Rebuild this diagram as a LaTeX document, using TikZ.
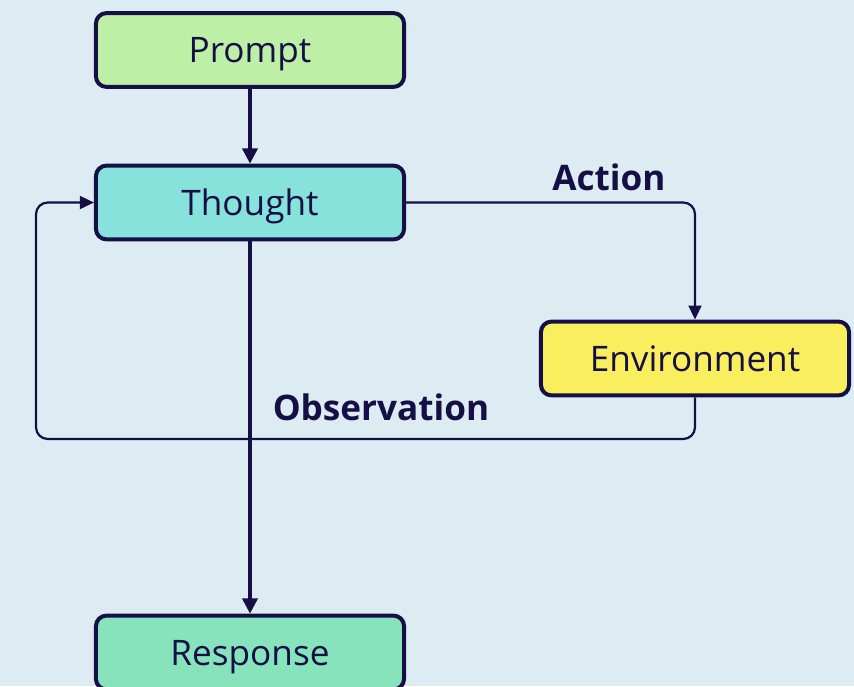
\documentclass[tikz,border=0pt]{standalone}
\usepackage{fontspec}
\setmainfont{Open Sans}
\usetikzlibrary{arrows.meta,positioning}
\definecolor{rcink}{HTML}{160F45}
\definecolor{rcback}{HTML}{DDEBF3}
\definecolor{rcprompt}{HTML}{BDF0A6}
\definecolor{rcthought}{HTML}{86E2DA}
\definecolor{rcenv}{HTML}{F8EE5E}
\definecolor{rcresp}{HTML}{86E3BC}
\tikzset{
  rc text/.style={font=\fontsize{30}{36}\selectfont, text=rcink},
  rc box/.style={draw=rcink, line width=3.4pt, rounded corners=9pt,
    minimum width=263pt, minimum height=63pt, inner sep=0pt,
    text height=21.5pt, text depth=0pt, font=\fontsize{30}{36}\selectfont},
  rc main/.style={-{Triangle[length=13pt,width=13pt]}, line width=2.6pt, draw=rcink},
  rc loop/.style={-{Triangle[length=12pt,width=11pt]}, line width=1.9pt, draw=rcink,
    rounded corners=10pt},
  rc label/.style={font=\fontsize{30}{36}\selectfont\bfseries, text=rcink}
}
\begin{document}
\begin{tikzpicture}[rc text, x=0.03cm, y=-0.03cm]
  \fill[rcback] (0,0) rectangle (854,686);
  \useasboundingbox (0,0) rectangle (854,686);
  \node[rc box, fill=rcprompt] (prompt) at (250,50) {Prompt};
  \node[rc box, fill=rcthought] (thought) at (250,202.5) {Thought};
  \node[rc box, fill=rcenv] (env) at (695,358.5) {Environment};
  \node[rc box, fill=rcresp] (resp) at (250,652.5) {Response};
  \draw[rc main] (prompt) -- (thought);
  \draw[rc main] (thought) -- (resp);
  \draw[rc loop] (thought.east) -- (695,202.5) -- (env.north);
  \draw[rc loop] (env.south) -- (695,439) -- (36,439) -- (36,202.5) -- (thought.west);
  \node[rc label] (action) at (609,177) {Action};
  \node[rc label] (obs) at (381,407) {Observation};
\end{tikzpicture}
\end{document}
